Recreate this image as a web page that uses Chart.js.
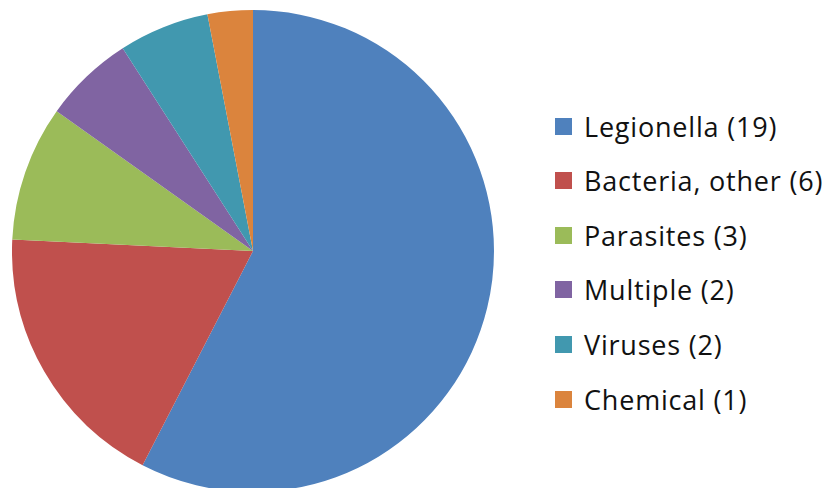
<!DOCTYPE html>
<html>
<head>
<meta charset="utf-8">
<script src="https://cdn.jsdelivr.net/npm/chart.js@4"></script>
<style>
    html, body { margin: 0; padding: 0; background: #fff; overflow: hidden; }
    body { width: 830px; height: 488px; position: relative; }
    #pieBox { position: absolute; left: 12px; top: 10px; width: 482px; height: 482px; }
    #legend { position: absolute; left: 555px; top: 0; font-family: "Open Sans", Lato, sans-serif; font-size: 27px; letter-spacing: 0.8px; color: #111; }
    .item { position: absolute; left: 0; height: 30px; display: flex; align-items: center; white-space: nowrap; }
    .box { width: 17px; height: 17px; margin-right: 12px; }
</style>
</head>
<body>
<div id="pieBox"><canvas id="pieChart"></canvas></div>
<div id="legend"></div>
<script>
// Dados do gráfico
const categories = ['Legionella', 'Bacteria, other', 'Parasites', 'Multiple', 'Viruses', 'Chemical'];
const counts = [19, 6, 3, 2, 2, 1];
const colors = ['#4F81BD', '#C0504D', '#9BBB59', '#8064A2', '#4198AF', '#DB843D'];

const pieData = {
    labels: categories.map((c, i) => c + ' (' + counts[i] + ')'),
    datasets: [{
        data: counts,
        backgroundColor: colors,
        borderWidth: 0
    }]
};

new Chart(document.getElementById('pieChart').getContext('2d'), {
    type: 'pie',
    data: pieData,
    options: {
        responsive: true,
        maintainAspectRatio: false,
        animation: false,
        layout: { padding: 0 },
        plugins: {
            legend: { display: false },
            tooltip: { enabled: false }
        }
    }
});

// Legenda em HTML
const legend = document.getElementById('legend');
pieData.labels.forEach((label, i) => {
    const row = document.createElement('div');
    row.className = 'item';
    row.style.top = (111 + i * 54.6) + 'px';
    row.innerHTML = '<span class="box" style="background:' + colors[i] + '"></span><span>' + label + '</span>';
    legend.appendChild(row);
});
</script>
</body>
</html>
